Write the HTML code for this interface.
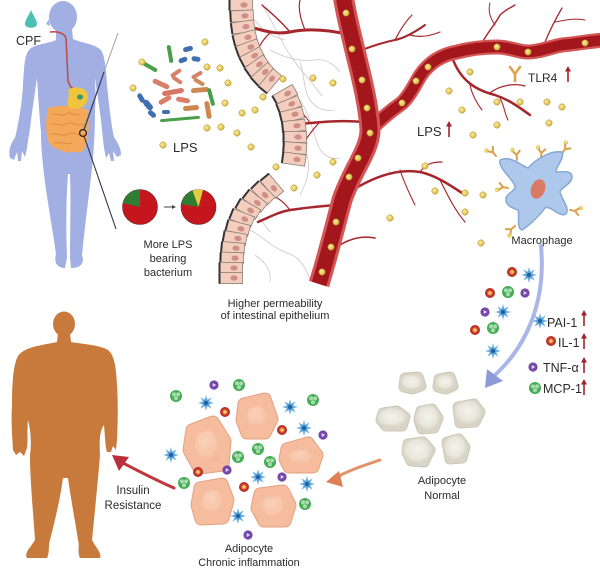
<!DOCTYPE html>
<html><head><meta charset="utf-8"><style>
html,body{margin:0;padding:0;background:#fff;}
svg{display:block;}
text{font-family:"Liberation Sans",Arial,sans-serif;fill:#2b2b2b;}
</style></head><body>
<svg width="600" height="583" viewBox="0 0 600 583" xmlns="http://www.w3.org/2000/svg">
<defs>
<radialGradient id="dotg" cx="0.4" cy="0.4" r="0.6"><stop offset="0" stop-color="#fbf0a0"/><stop offset="1" stop-color="#d8b440"/></radialGradient>
<radialGradient id="fatg" cx="0.45" cy="0.4" r="0.65"><stop offset="0" stop-color="#fbd0b6"/><stop offset="0.7" stop-color="#f5bb9c"/><stop offset="1" stop-color="#e9a585"/></radialGradient>
<radialGradient id="ng" cx="0.45" cy="0.4" r="0.65"><stop offset="0" stop-color="#f4f3ea"/><stop offset="0.7" stop-color="#e9e7dc"/><stop offset="1" stop-color="#d8d5c6"/></radialGradient>
<g id="cell"><rect x="-11.5" y="-5.6" width="23" height="11.2" fill="#f3cdbd" stroke="#8a7f78" stroke-width="0.8"/><line x1="-11.5" y1="-5.6" x2="-11.5" y2="5.6" stroke="#333" stroke-width="2"/><ellipse cx="3" cy="0" rx="3.6" ry="2.6" fill="#cf8f88"/></g>
<g id="pai"><polygon points="8,0 3.23,1.34 5.66,5.66 1.34,3.23 0,8 -1.34,3.23 -5.66,5.66 -3.23,1.34 -8,0 -3.23,-1.34 -5.66,-5.66 -1.34,-3.23 0,-8 1.34,-3.23 5.66,-5.66 3.23,-1.34" fill="#6fb2e2"/><circle r="3.6" fill="#5aa0d8"/><circle r="2" fill="#1f5f9e"/></g>
<g id="il"><circle r="5" fill="#b8322a"/><circle r="2.9" fill="#e0603c"/><circle r="1.6" fill="#f3d36b"/></g>
<g id="tnf"><circle r="4.6" fill="#7448a8"/><polygon points="-1.3,-2 2.2,0 -1.3,2" fill="#e6d8f4"/></g>
<g id="mcp"><circle r="6" fill="#47ad55"/><circle cx="-2" cy="-1.6" r="2" fill="#a9dcb0"/><circle cx="2.1" cy="-1.6" r="2" fill="#a9dcb0"/><circle cx="0" cy="2.2" r="2" fill="#a9dcb0"/></g>
<g id="up"><line x1="0" y1="15" x2="0" y2="3" stroke="#a3232c" stroke-width="1.6"/><polygon points="-3,4.5 0,-1 3,4.5" fill="#a3232c"/></g>
<g id="rec"><path d="M0 0 L0 -5 M0 -5 L-3.5 -9 M0 -5 L3.5 -9" stroke="#dba04c" stroke-width="2" fill="none" stroke-linecap="round"/><circle cx="-3.8" cy="-10.5" r="2.2" fill="url(#dotg)"/></g>
<circle id="d" r="3.2" fill="url(#dotg)" stroke="#b0902a" stroke-width="0.5"/>
</defs>

<!-- thin human -->
<ellipse cx="63" cy="17" rx="14" ry="16" fill="#a1afe2"/>
<path d="M49 19 L46 24 L50 26 Z" fill="#a1afe2"/>
<path d="M56 29 L56 40 C47 44 34 44 29 50 C24 56 24 70 23 85 C22 105 18 125 15 138 C11 143 8 150 10 158 L14 160 L17 152 L18 161 L21 161 L22 151 L25 157 L27 148 C28 140 30 130 31 120 C33 105 35 92 37 78 C38 92 39 112 41 132 C41 145 42 155 43 165 C46 195 52 225 56 254 C54 261 56 268 65 268 L67 258 C66 230 66 200 68 174 L70 174 C71 200 70 230 70 258 L71 268 C80 268 85 264 82 255 C85 225 89 195 92 168 C94 150 95 130 95 110 C96 95 95 86 95 78 C97 92 99 105 101 120 C102 130 103 140 104 148 L106 158 L109 153 L111 161 L114 161 L113 151 L117 157 L121 155 C121 147 117 142 114 137 C111 124 109 105 107 85 C106 70 105 56 101 50 C95 44 82 43 73 39 L72 29 Z" fill="#a1afe2"/>
<!-- organs -->
<path d="M50 32 C58 31 64 33 66 38 L68 80 C69 86 72 88 75 90" stroke="#c0474a" stroke-width="1.5" fill="none"/>
<path d="M48 108 C60 104 80 106 88 110 C90 125 88 140 84 150 C78 155 72 150 68 153 C60 150 50 148 48 140 C45 130 46 118 48 108 Z" fill="#f4a85a"/>
<path d="M52 115 C58 112 62 118 66 114 C70 110 74 118 80 114 M50 125 C56 121 60 128 66 124 C72 120 76 128 84 124 M50 135 C56 131 62 138 68 134 C74 130 78 138 84 134 M54 144 C60 140 66 146 72 143" stroke="#e48c3c" stroke-width="1" fill="none"/>
<path d="M68 90 C75 85 88 87 88 97 C88 106 80 110 70 108 C64 104 71 98 68 90 Z" fill="#f1c43e"/>
<ellipse cx="80" cy="97" rx="3" ry="2.6" fill="#3c9a64"/>
<path d="M118 33 L83 130" stroke="#9aa0b0" stroke-width="1"/>
<path d="M104 72 L84 130" stroke="#2a3550" stroke-width="1.1"/>
<path d="M84 136 L116 229" stroke="#2a3550" stroke-width="1.1"/>
<circle cx="83" cy="133" r="3.4" fill="none" stroke="#222" stroke-width="1.3"/>
<path d="M31 10 C28 17 25 20 25 24 C25 29 37 29 37 24 C37 20 34 17 31 10 Z" fill="#4dbfb5"/>
<text x="16" y="45" font-size="12.5">CPF</text>

<!-- bacteria -->
<g>
<rect x="-9" y="-2" width="18" height="4" rx="2" fill="#4a9e48" transform="translate(170,54) rotate(80)"/>
<rect x="-5" y="-2.5" width="10" height="5" rx="2.5" fill="#3f6fb0" transform="translate(188,49) rotate(-15)"/>
<rect x="-4.5" y="-2.5" width="9" height="5" rx="2.5" fill="#3f6fb0" transform="translate(183,60) rotate(-20)"/>
<rect x="-4.5" y="-2.5" width="9" height="5" rx="2.5" fill="#3f6fb0" transform="translate(196,59) rotate(10)"/>
<rect x="-8" y="-2" width="16" height="4" rx="2" fill="#4a9e48" transform="translate(150,67) rotate(30)"/>
<rect x="-6" y="-2" width="12" height="4" rx="2" fill="#d9806a" transform="translate(176,73) rotate(-35)"/>
<rect x="-6" y="-2" width="12" height="4" rx="2" fill="#d9806a" transform="translate(177,80) rotate(35)"/>
<rect x="-6" y="-2" width="12" height="4" rx="2" fill="#d9806a" transform="translate(197,75) rotate(-30)"/>
<rect x="-6" y="-2" width="12" height="4" rx="2" fill="#cf8a5a" transform="translate(199,82) rotate(30)"/>
<rect x="-9" y="-2.5" width="18" height="5" rx="2.5" fill="#d9806a" transform="translate(161,84) rotate(25)"/>
<rect x="-11" y="-2.5" width="22" height="5" rx="2.5" fill="#d47865" transform="translate(173,92) rotate(-10)"/>
<rect x="-9" y="-2.5" width="18" height="5" rx="2.5" fill="#cc8850" transform="translate(200,90) rotate(-5)"/>
<rect x="-5" y="-2.5" width="10" height="5" rx="2.5" fill="#3f6fb0" transform="translate(141,98) rotate(60)"/>
<rect x="-6" y="-3" width="12" height="6" rx="3" fill="#3f6fb0" transform="translate(148,105) rotate(50)"/>
<rect x="-4.5" y="-2.5" width="9" height="5" rx="2.5" fill="#3f6fb0" transform="translate(152,114) rotate(40)"/>
<rect x="-4" y="-2" width="8" height="4" rx="2" fill="#3f6fb0" transform="translate(166,112)"/>
<rect x="-9" y="-2" width="18" height="4" rx="2" fill="#4a9e48" transform="translate(211,97) rotate(75)"/>
<rect x="-9" y="-2.5" width="18" height="5" rx="2.5" fill="#cc8850" transform="translate(208,110) rotate(80)"/>
<rect x="-20" y="-1.5" width="40" height="3" rx="1.5" fill="#4a9e48" transform="translate(180,119) rotate(-5)"/>
<rect x="-7" y="-2.5" width="14" height="5" rx="2.5" fill="#d9806a" transform="translate(183,100) rotate(10)"/>
<rect x="-8" y="-2.5" width="16" height="5" rx="2.5" fill="#cc8850" transform="translate(191,108) rotate(-5)"/>
<rect x="-7" y="-2.5" width="14" height="5" rx="2.5" fill="#d9806a" transform="translate(165,100) rotate(-30)"/>
</g>
<use href="#d" x="163" y="145"/>
<text x="173" y="152" font-size="13">LPS</text>

<!-- pies -->
<circle cx="140" cy="207" r="17.5" fill="#c4161c" stroke="#6a2a2a" stroke-width="0.6"/>
<path d="M140 207 L140 189.5 A17.5 17.5 0 0 0 122.9 203 Z" fill="#2e7d32"/>
<line x1="164" y1="207" x2="175" y2="207" stroke="#444" stroke-width="1"/>
<polygon points="176,207 172,205 172,209" fill="#444"/>
<circle cx="198.5" cy="207" r="17.5" fill="#c4161c" stroke="#6a2a2a" stroke-width="0.6"/>
<path d="M198.5 207 L192.5 190.6 A17.5 17.5 0 0 0 181.3 204 Z" fill="#2e7d32"/>
<path d="M198.5 207 L203 190.1 A17.5 17.5 0 0 0 192.5 190.6 Z" fill="#e2cc40"/>
<text x="168" y="248" font-size="11" text-anchor="middle">More LPS</text>
<text x="168" y="262" font-size="11" text-anchor="middle">bearing</text>
<text x="168" y="276" font-size="11" text-anchor="middle">bacterium</text>

<!-- gray capillaries -->
<g stroke="#cfc7c7" stroke-width="0.8" fill="none">
<path d="M262 5 C272 20 280 40 290 55 C300 70 310 80 322 96"/>
<path d="M270 50 C285 58 300 62 315 60 C325 58 335 65 340 72"/>
<path d="M300 62 C305 75 303 90 310 100 C315 108 325 112 335 110"/>
<path d="M255 20 C262 30 270 36 285 40"/>
<path d="M300 100 C310 115 312 130 318 145 C322 155 330 160 340 158"/>
<path d="M305 150 C312 165 308 180 300 195"/>
<path d="M250 230 C262 236 272 248 290 254 C300 258 306 268 310 280"/>
<path d="M255 255 C265 262 272 270 270 282"/>
<path d="M245 205 C255 212 262 222 270 232"/>
</g>
<!-- thin red branches -->
<g stroke="#a5272c" fill="none" stroke-linecap="round">
<path d="M350 35 C330 30 310 28 290 32 C275 35 262 30 250 27" stroke-width="3"/>
<path d="M290 32 C280 20 270 12 262 5" stroke-width="1.4"/>
<path d="M270 33 C262 40 258 48 255 56" stroke-width="1.2"/>
<path d="M305 30 C300 18 298 8 300 0" stroke-width="1.2"/>
<path d="M364 122 C340 120 320 122 300 124" stroke-width="2.5"/>
<path d="M320 122 C312 130 305 140 300 150" stroke-width="1.2"/>
<path d="M310 123 C305 115 300 110 295 108" stroke-width="1"/>
<path d="M343 205 C325 205 305 208 290 210 C278 212 268 218 258 222" stroke-width="2.5"/>
<path d="M290 210 C282 200 276 196 268 195" stroke-width="1.2"/>
<path d="M362 50 C375 45 385 42 395 40 C405 38 415 32 425 25" stroke-width="2"/>
<path d="M395 40 C400 30 405 22 412 15" stroke-width="1.2"/>
<path d="M410 35 C420 38 430 36 440 32" stroke-width="1.2"/>
<path d="M452 57 C460 80 475 90 495 95 C510 100 520 108 530 115" stroke-width="2.5"/>
<path d="M490 93 C500 85 515 83 525 86" stroke-width="1.2"/>
<path d="M500 98 C505 108 505 115 508 120" stroke-width="1.1"/>
<path d="M470 85 C472 95 478 105 482 110" stroke-width="1.1"/>
<path d="M345 195 C370 178 395 168 420 172 C435 175 450 185 465 195" stroke-width="2.5"/>
<path d="M420 172 C425 165 430 162 442 162" stroke-width="1.2"/>
<path d="M440 180 C450 200 455 210 465 222" stroke-width="1.2"/>
<path d="M400 170 C405 185 410 195 415 205" stroke-width="1.1"/>
<path d="M333 250 C345 240 360 235 375 238" stroke-width="1.6"/>
<path d="M480 47 C485 35 495 25 500 15 C505 10 510 8 515 5" stroke-width="1.4"/>
<path d="M495 25 C490 18 488 10 490 3" stroke-width="1"/>
<path d="M545 42 C550 30 555 20 562 8" stroke-width="1.3"/>
<path d="M555 22 C565 20 575 18 585 20" stroke-width="1"/>
</g>
<!-- main vessels -->
<g fill="none" stroke-linecap="butt">
<path d="M372 128 C385 115 395 108 402 103 C410 95 414 86 420 76 C428 64 440 55 457 52 C472 48 485 47 497 47 C510 47 518 52 528 52 C540 52 550 47 562 45 C580 43 592 41 605 40" stroke="#d45555" stroke-width="15"/>
<path d="M372 128 C385 115 395 108 402 103 C410 95 414 86 420 76 C428 64 440 55 457 52 C472 48 485 47 497 47 C510 47 518 52 528 52 C540 52 550 47 562 45 C580 43 592 41 605 40" stroke="#a3171c" stroke-width="10.5"/>
<path d="M343 -5 C350 40 368 90 370 130 C370 150 352 170 342 200 C334 230 328 255 319 284" stroke="#d45555" stroke-width="21"/>
<path d="M343 -5 C350 40 368 90 370 130 C370 150 352 170 342 200 C334 230 328 255 319 284" stroke="#a3171c" stroke-width="15"/>
</g>
<g>
<use href="#d" x="346" y="13"/><use href="#d" x="352" y="49"/><use href="#d" x="362" y="80"/><use href="#d" x="367" y="108"/><use href="#d" x="370" y="133"/><use href="#d" x="358" y="158"/><use href="#d" x="349" y="177"/><use href="#d" x="336" y="222"/><use href="#d" x="331" y="247"/><use href="#d" x="322" y="272"/>
<use href="#d" x="402" y="103"/><use href="#d" x="416" y="81"/><use href="#d" x="428" y="67"/><use href="#d" x="497" y="47"/><use href="#d" x="528" y="52"/><use href="#d" x="585" y="43"/>
</g>

<!-- epithelium cells -->
<g>
<use href="#cell" transform="translate(241,5)"/>
<use href="#cell" transform="translate(242,16) rotate(-3)"/>
<use href="#cell" transform="translate(243,27) rotate(-8)"/>
<use href="#cell" transform="translate(245,38) rotate(-14)"/>
<use href="#cell" transform="translate(248,48) rotate(-20)"/>
<use href="#cell" transform="translate(252,57) rotate(-28)"/>
<use href="#cell" transform="translate(257,66) rotate(-35)"/>
<use href="#cell" transform="translate(263,74) rotate(-42)"/>
<use href="#cell" transform="translate(270,81) rotate(-50)"/>
<use href="#cell" transform="translate(285,95) rotate(-30)"/>
<use href="#cell" transform="translate(289,105) rotate(-22)"/>
<use href="#cell" transform="translate(292,115) rotate(-14)"/>
<use href="#cell" transform="translate(294,126) rotate(-6)"/>
<use href="#cell" transform="translate(295,137)"/>
<use href="#cell" transform="translate(295,148) rotate(4)"/>
<use href="#cell" transform="translate(294,159) rotate(8)"/>
<use href="#cell" transform="translate(272,186) rotate(50)"/>
<use href="#cell" transform="translate(263,193) rotate(45)"/>
<use href="#cell" transform="translate(255,201) rotate(38)"/>
<use href="#cell" transform="translate(248,209) rotate(30)"/>
<use href="#cell" transform="translate(242,218) rotate(22)"/>
<use href="#cell" transform="translate(238,228) rotate(15)"/>
<use href="#cell" transform="translate(235,238) rotate(10)"/>
<use href="#cell" transform="translate(233,248) rotate(5)"/>
<use href="#cell" transform="translate(232,258) rotate(2)"/>
<use href="#cell" transform="translate(231,268)"/>
<use href="#cell" transform="translate(231,278)"/>
</g>

<!-- free LPS dots -->
<g>
<use href="#d" x="205" y="42"/><use href="#d" x="142" y="62"/><use href="#d" x="207" y="67"/><use href="#d" x="220" y="68"/><use href="#d" x="133" y="88"/><use href="#d" x="228" y="83"/><use href="#d" x="263" y="97"/><use href="#d" x="225" y="103"/><use href="#d" x="242" y="113"/><use href="#d" x="255" y="110"/><use href="#d" x="207" y="128"/><use href="#d" x="221" y="127"/><use href="#d" x="237" y="133"/><use href="#d" x="251" y="147"/><use href="#d" x="276" y="167"/><use href="#d" x="294" y="188"/><use href="#d" x="283" y="79"/><use href="#d" x="313" y="78"/><use href="#d" x="333" y="83"/><use href="#d" x="317" y="175"/><use href="#d" x="333" y="162"/><use href="#d" x="390" y="218"/>
<use href="#d" x="470" y="72"/><use href="#d" x="449" y="91"/><use href="#d" x="462" y="110"/><use href="#d" x="497" y="102"/><use href="#d" x="520" y="102"/><use href="#d" x="547" y="102"/><use href="#d" x="562" y="107"/><use href="#d" x="497" y="125"/><use href="#d" x="473" y="135"/><use href="#d" x="549" y="123"/><use href="#d" x="425" y="166"/><use href="#d" x="435" y="191"/><use href="#d" x="465" y="193"/><use href="#d" x="483" y="195"/><use href="#d" x="465" y="212"/><use href="#d" x="481" y="243"/>
</g>

<!-- TLR4, LPS up -->
<path d="M515 81 L515 74 M515 74 L510 67 M515 74 L520 67" stroke="#e0a24d" stroke-width="2.6" fill="none" stroke-linecap="round"/>
<text x="528" y="82" font-size="12">TLR4</text>
<use href="#up" x="568" y="67"/>
<text x="417" y="136" font-size="13">LPS</text>
<use href="#up" x="449" y="122"/>

<!-- macrophage -->
<use href="#rec" transform="translate(496,156) rotate(-40)"/>
<use href="#rec" transform="translate(517,160) rotate(-5)"/>
<use href="#rec" transform="translate(541,158) rotate(5)"/>
<use href="#rec" transform="translate(562,153) rotate(40)"/>
<use href="#rec" transform="translate(508,188) rotate(-80)"/>
<use href="#rec" transform="translate(570,210) rotate(100)"/>
<use href="#rec" transform="translate(515,226) rotate(-130)"/>
<path d="M500 160 C510 155 520 165 528 168 C535 160 550 150 562 152 C565 158 555 168 556 172 C562 172 572 170 572 177 C572 184 560 188 560 192 C562 200 570 208 566 214 C560 218 550 205 545 208 C540 215 530 225 522 230 C516 228 520 215 518 210 C512 208 505 205 506 198 C508 192 515 192 515 186 C512 178 498 168 500 160 Z" fill="#adc8ea" stroke="#86a8d4" stroke-width="1.5" stroke-linejoin="round"/>
<ellipse cx="538" cy="189" rx="7" ry="10" transform="rotate(20 538 189)" fill="#d97b64"/>
<text x="542" y="244" font-size="11" text-anchor="middle">Macrophage</text>

<!-- cytokines right cluster -->
<use href="#il" x="512" y="272"/><use href="#pai" x="529" y="275"/>
<use href="#il" x="490" y="293"/><use href="#mcp" x="508" y="292"/><use href="#tnf" x="525" y="293"/>
<use href="#tnf" x="485" y="312"/><use href="#pai" x="503" y="312"/>
<use href="#il" x="475" y="330"/><use href="#mcp" x="493" y="328"/>
<use href="#pai" x="493" y="351"/>
<!-- blue curved arrow -->
<path d="M541 246 C546 300 528 345 494 376" stroke="#aab6e6" stroke-width="4" fill="none" stroke-linecap="round"/>
<polygon points="485,388 487,369 503,381" fill="#8d9ad8"/>
<!-- legend -->
<use href="#pai" x="540" y="321"/><text x="547" y="327" font-size="12.5">PAI-1</text><use href="#up" x="584" y="311"/>
<use href="#il" x="551" y="341"/><text x="558" y="347" font-size="12.5">IL-1</text><use href="#up" x="584" y="334"/>
<use href="#tnf" x="533" y="367"/><text x="543" y="372" font-size="12.5">TNF-α</text><use href="#up" x="584" y="358"/>
<use href="#mcp" x="535" y="388"/><text x="543" y="393" font-size="12.5">MCP-1</text><use href="#up" x="584" y="380"/>

<!-- normal adipocytes -->
<g stroke="#cbc8b8" stroke-width="11" stroke-linejoin="round" fill="#cbc8b8">
<polygon points="405,378 418,377 421,386 413,389 404,387"/>
<polygon points="439,379 450,377 453,386 446,389 438,387"/>
<polygon points="383,413 397,411 405,417 402,426 386,426 381,420"/>
<polygon points="421,411 432,409 438,418 434,428 422,429 419,420"/>
<polygon points="458,407 474,404 480,412 475,422 460,423"/>
<polygon points="408,444 423,442 430,450 424,462 411,461 407,452"/>
<polygon points="447,442 459,439 465,447 462,458 450,459"/>
</g>
<g stroke="url(#ng)" stroke-width="9" stroke-linejoin="round" fill="url(#ng)">
<polygon points="405,378 418,377 421,386 413,389 404,387"/>
<polygon points="439,379 450,377 453,386 446,389 438,387"/>
<polygon points="383,413 397,411 405,417 402,426 386,426 381,420"/>
<polygon points="421,411 432,409 438,418 434,428 422,429 419,420"/>
<polygon points="458,407 474,404 480,412 475,422 460,423"/>
<polygon points="408,444 423,442 430,450 424,462 411,461 407,452"/>
<polygon points="447,442 459,439 465,447 462,458 450,459"/>
</g>
<text x="442" y="484" font-size="11" text-anchor="middle">Adipocyte</text>
<text x="442" y="499" font-size="11" text-anchor="middle">Normal</text>

<!-- orange arrow -->
<path d="M380 460 C365 465 350 470 337 477" stroke="#e4916a" stroke-width="3" fill="none" stroke-linecap="round"/>
<polygon points="326,482 339,471 343,487" fill="#e07f56"/>

<!-- inflamed adipocytes -->
<g fill="#e3a182" stroke="#e3a182" stroke-width="13" stroke-linejoin="round">
<polygon points="192,430 213,422 225,441 223,465 199,468 189,450"/>
<polygon points="244,404 265,399 272,419 265,433 247,433 242,420"/>
<polygon points="287,449 308,443 317,455 313,467 289,467 285,459"/>
<polygon points="200,488 222,484 228,500 223,518 201,519 197,505"/>
<polygon points="260,494 283,491 290,505 285,521 264,521 257,508"/>
</g>
<g fill="url(#fatg)" stroke="#f5bc9e" stroke-width="11" stroke-linejoin="round">
<polygon points="192,430 213,422 225,441 223,465 199,468 189,450"/>
<polygon points="244,404 265,399 272,419 265,433 247,433 242,420"/>
<polygon points="287,449 308,443 317,455 313,467 289,467 285,459"/>
<polygon points="200,488 222,484 228,500 223,518 201,519 197,505"/>
<polygon points="260,494 283,491 290,505 285,521 264,521 257,508"/>
</g>
<g fill="#fbd2bb" opacity="0.3">
<ellipse cx="206" cy="444" rx="11" ry="12"/>
<ellipse cx="256" cy="416" rx="10" ry="9"/>
<ellipse cx="300" cy="456" rx="11" ry="7"/>
<ellipse cx="212" cy="500" rx="10" ry="11"/>
<ellipse cx="272" cy="505" rx="11" ry="10"/>
</g>
<g>
<use href="#tnf" x="214" y="385"/><use href="#mcp" x="239" y="385"/><use href="#mcp" x="176" y="396"/><use href="#pai" x="206" y="403"/><use href="#il" x="225" y="412"/>
<use href="#pai" x="290" y="407"/><use href="#mcp" x="313" y="400"/><use href="#il" x="282" y="430"/><use href="#pai" x="304" y="428"/><use href="#tnf" x="323" y="435"/>
<use href="#pai" x="171" y="455"/><use href="#mcp" x="238" y="457"/><use href="#mcp" x="258" y="449"/><use href="#mcp" x="270" y="462"/>
<use href="#il" x="198" y="472"/><use href="#tnf" x="227" y="470"/><use href="#pai" x="258" y="477"/><use href="#tnf" x="282" y="477"/><use href="#pai" x="307" y="484"/>
<use href="#mcp" x="184" y="483"/><use href="#il" x="244" y="487"/><use href="#mcp" x="305" y="504"/><use href="#pai" x="238" y="516"/><use href="#tnf" x="248" y="535"/>
</g>
<text x="249" y="552" font-size="11" text-anchor="middle">Adipocyte</text>
<text x="249" y="566" font-size="10.8" text-anchor="middle">Chronic inflammation</text>

<!-- red arrow -->
<path d="M174 488 C158 481 142 473 123 463" stroke="#c0353e" stroke-width="3" fill="none" stroke-linecap="round"/>
<polygon points="112,455 129,457 119,471" fill="#b8303a"/>
<text x="133" y="494" font-size="11.5" text-anchor="middle">Insulin</text>
<text x="133" y="509" font-size="11.5" text-anchor="middle">Resistance</text>

<!-- obese body -->
<ellipse cx="64" cy="324" rx="11" ry="12.5" fill="#c77a3c"/>
<path d="M58 333 L57 342 C45 345 25 346 18 356 C13 365 12 385 12 405 C11 420 12 435 13 450 L16 455 L20 452 L24 456 L27 448 C28 440 27 430 28 420 C30 428 32 440 30 455 C30 480 33 510 35 540 C30 548 24 553 27 558 L47 558 C50 552 48 545 50 540 C55 520 60 500 63 478 L68 478 C71 500 75 520 78 540 C80 545 77 552 80 558 L100 558 C102 553 96 548 92 540 C95 510 98 480 100 455 C99 440 100 430 104 425 C105 435 105 445 107 452 L111 452 L113 446 L116 450 L117 440 C118 420 118 400 117 385 C116 365 114 355 108 350 C100 345 82 344 71 342 L70 333 Z" fill="#c77a3c"/>

<text x="275" y="307" font-size="11" text-anchor="middle">Higher permeability</text>
<text x="275" y="319" font-size="11" text-anchor="middle">of intestinal epithelium</text>
</svg>
</body></html>
